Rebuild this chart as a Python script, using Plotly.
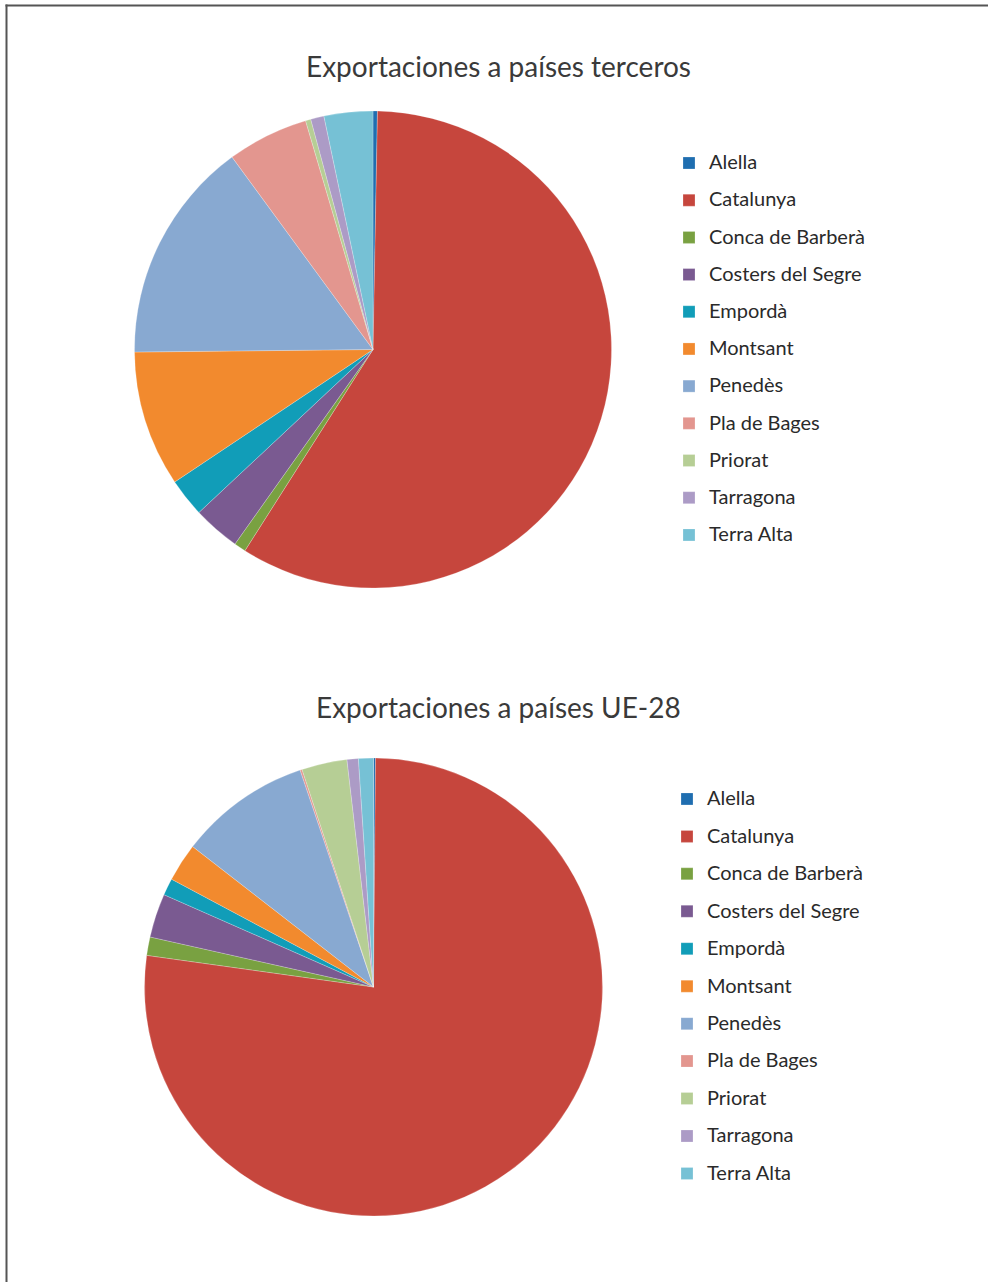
import plotly.graph_objects as go

# ---- data ----
categories = ["Alella", "Catalunya", "Conca de Barberà", "Costers del Segre", "Empordà",
              "Montsant", "Penedès", "Pla de Bages", "Priorat", "Tarragona", "Terra Alta"]
terceros_pct = [0.3, 58.7, 0.8, 3.2, 2.6, 9.2, 15.1, 5.5, 0.36, 0.9, 3.3]
ue28_pct = [0.14, 77.05, 1.3, 3.1, 1.2, 2.7, 9.3, 0.14, 3.2, 0.8, 1.05]
colors = ["#1F6EB0", "#C6463D", "#79A141", "#7A5A91", "#119DB8", "#F28A2E",
          "#88A9D1", "#E3968F", "#B6CE95", "#AC9BC6", "#76C1D5"]
title_top = "Exportaciones a países terceros"
title_bottom = "Exportaciones a países UE-28"

W, H = 988, 1282
FONT = "Lato"
TEXT_COLOR = "#2a2a2a"


def px_x(x):
    return x / W


def px_y(y):
    return 1 - y / H


def legend_labels(names):
    return ['<span style="font-size:20px;baseline-shift:4px">%s</span>' % n for n in names]


def pie_domain(cx, cy, r):
    return dict(x=[px_x(cx - r), px_x(cx + r)], y=[px_y(cy + r), px_y(cy - r)])


slice_line = dict(color="rgba(255,255,255,0.45)", width=0.5)

fig = go.Figure()
fig.add_trace(go.Pie(
    labels=legend_labels(categories), values=terceros_pct, sort=False,
    direction="clockwise", rotation=0, textinfo="none",
    marker=dict(colors=colors, line=slice_line),
    domain=pie_domain(373, 349.5, 238.5), legend="legend", legendgroup="terceros",
    hoverinfo="percent",
))
fig.add_trace(go.Pie(
    labels=legend_labels(categories), values=ue28_pct, sort=False,
    direction="clockwise", rotation=0, textinfo="none",
    marker=dict(colors=colors, line=slice_line),
    domain=pie_domain(373.5, 987, 229), legend="legend2", legendgroup="ue28",
    hoverinfo="percent",
))

leg_common = dict(xanchor="left", yanchor="top", bgcolor="rgba(0,0,0,0)",
                  borderwidth=0, itemclick=False, itemdoubleclick=False)
fig.update_layout(
    width=W, height=H,
    margin=dict(l=0, r=0, t=0, b=0),
    paper_bgcolor="white", plot_bgcolor="white",
    font=dict(family=FONT, color=TEXT_COLOR),
    legend=dict(x=px_x(669), y=px_y(139.4),
                font=dict(family=FONT, size=26.3, color=TEXT_COLOR), **leg_common),
    legend2=dict(x=px_x(667), y=px_y(775.2),
                 font=dict(family=FONT, size=26.5, color=TEXT_COLOR), **leg_common),
    annotations=[
        dict(text=title_top, xref="paper", yref="paper", x=px_x(498), y=px_y(66),
             xanchor="center", yanchor="middle", showarrow=False,
             font=dict(family=FONT, size=28, color="#3a3a3a")),
        dict(text=title_bottom, xref="paper", yref="paper", x=px_x(498), y=px_y(707),
             xanchor="center", yanchor="middle", showarrow=False,
             font=dict(family=FONT, size=28, color="#3a3a3a")),
    ],
    shapes=[
        dict(type="line", xref="paper", yref="paper", x0=px_x(6.5), x1=px_x(6.5),
             y0=px_y(4.5), y1=px_y(H + 5), line=dict(color="#555555", width=2)),
        dict(type="line", xref="paper", yref="paper", x0=px_x(5.5), x1=px_x(W + 5),
             y0=px_y(5.5), y1=px_y(5.5), line=dict(color="#555555", width=2)),
    ],
)

fig.write_html("out.html",
               config={"displayModeBar": False},
               post_script="document.body.style.margin='0';document.body.style.overflow='hidden';")
